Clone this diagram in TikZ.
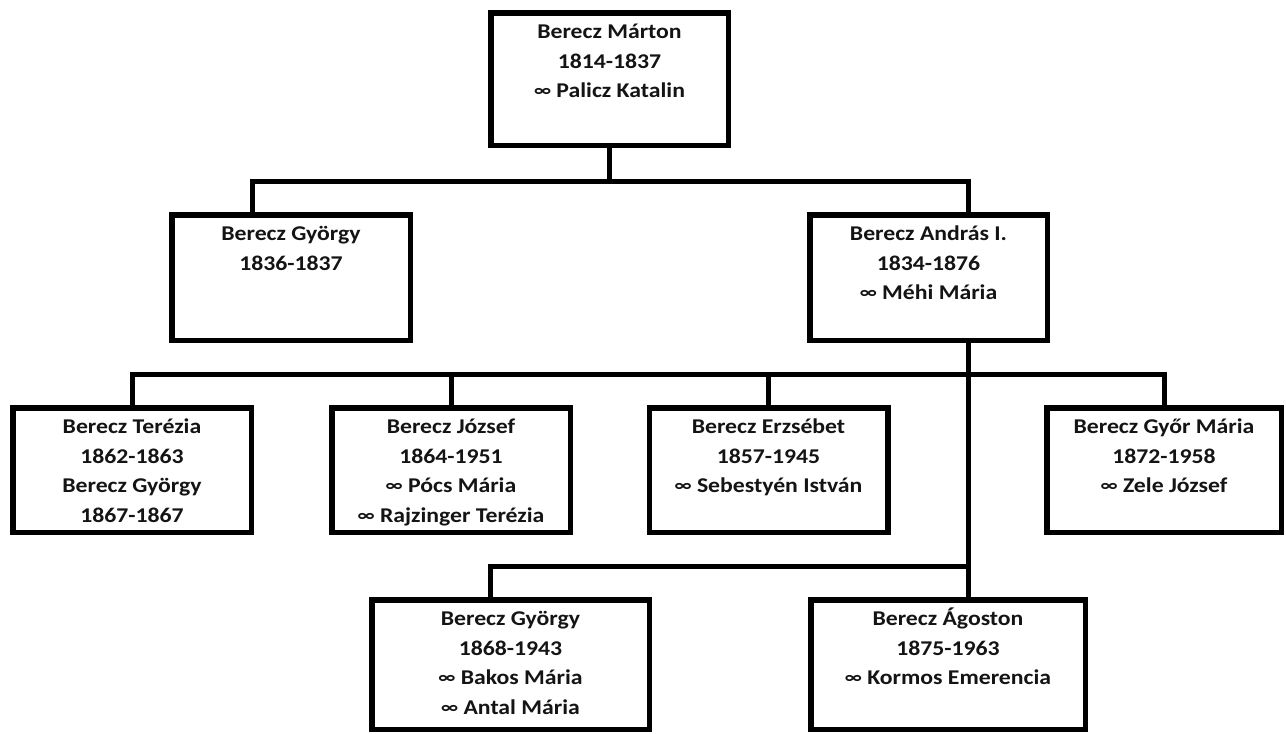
\documentclass[tikz,border=0pt]{standalone}
\usepackage{fontspec}
\setmainfont{Carlito}[FakeStretch=1.13]
\newcommand\infsym{\raisebox{1.2pt}{\fontsize{18}{29.5}\selectfont ∞}}
\begin{document}
\begin{tikzpicture}[x=1pt,y=-1pt,
  box/.style={draw=black, line width=5.5pt, inner sep=0pt, fill=white},
  txt/.style={anchor=north, align=center, inner sep=0pt, text=black!92,
    font=\bfseries\fontsize{21}{29.5}\selectfont},
  conn/.style={draw=black, line width=5pt}]
\useasboundingbox[fill=white] (0,0) rectangle (1286,734);
% boxes
\node[box, minimum width=237.5pt, minimum height=132.5pt] (m)   at (609.5,79) {};
\node[box, minimum width=238.5pt, minimum height=125.5pt] (gy)  at (291,277.5) {};
\node[box, minimum width=237.5pt, minimum height=125.5pt] (an)  at (928.5,277.5) {};
\node[box, minimum width=238.5pt, minimum height=124.5pt] (te)  at (132,470) {};
\node[box, minimum width=238.5pt, minimum height=124.5pt] (jo)  at (451,470) {};
\node[box, minimum width=238.5pt, minimum height=124.5pt] (er)  at (768.5,470) {};
\node[box, minimum width=234.5pt, minimum height=124.5pt] (gym) at (1164,470) {};
\node[box, minimum width=277.5pt, minimum height=129.5pt] (gy4) at (510.5,664.5) {};
\node[box, minimum width=274.5pt, minimum height=129.5pt] (ag)  at (948,664.5) {};
% texts
\node[txt] (mt)   at ([yshift=-8.5pt]m.north)   {\rule{0pt}{20pt}Berecz Márton\\1814-1837\\\infsym{} Palicz Katalin};
\node[txt] (gyt)  at ([yshift=-8.5pt]gy.north)  {\rule{0pt}{20pt}Berecz György\\1836-1837};
\node[txt] (ant)  at ([yshift=-8.5pt]an.north)  {\rule{0pt}{20pt}Berecz András I.\\1834-1876\\\infsym{} Méhi Mária};
\node[txt] (tet)  at ([yshift=-8.5pt]te.north)  {\rule{0pt}{20pt}Berecz Terézia\\1862-1863\\Berecz György\\1867-1867};
\node[txt] (jot)  at ([yshift=-8.5pt]jo.north)  {\rule{0pt}{20pt}Berecz József\\1864-1951\\\infsym{} Pócs Mária\\\infsym{} Rajzinger Terézia};
\node[txt] (ert)  at ([yshift=-8.5pt]er.north)  {\rule{0pt}{20pt}Berecz Erzsébet\\1857-1945\\\infsym{} Sebestyén István};
\node[txt] (gymt) at ([yshift=-8.5pt]gym.north) {\rule{0pt}{20pt}Berecz Győr Mária\\1872-1958\\\infsym{} Zele József};
\node[txt] (gy4t) at ([yshift=-8.5pt]gy4.north) {\rule{0pt}{20pt}Berecz György\\1868-1943\\\infsym{} Bakos Mária\\\infsym{} Antal Mária};
\node[txt] (agt)  at ([yshift=-8.5pt]ag.north)  {\rule{0pt}{20pt}Berecz Ágoston\\1875-1963\\\infsym{} Kormos Emerencia};
% junctions
\coordinate (j1) at (610,181);
\coordinate (j2) at (968,374);
\coordinate (j3) at (968,566);
% connectors
\draw[conn] (m.south) -- (m.south |- j1);
\draw[conn] ([xshift=-38.5pt]gy.north) |- (j1) -| ([xshift=39.5pt]an.north);
\draw[conn] (te.north) |- (j2) -| (gym.north);
\draw[conn] (jo.north) -- (jo.north |- j2);
\draw[conn] (er.north) -- (er.north |- j2);
\draw[conn] ([xshift=39.5pt]an.south) -- ([xshift=20pt]ag.north);
\draw[conn] ([xshift=-20.5pt]gy4.north) |- (j3);
\end{tikzpicture}
\end{document}
